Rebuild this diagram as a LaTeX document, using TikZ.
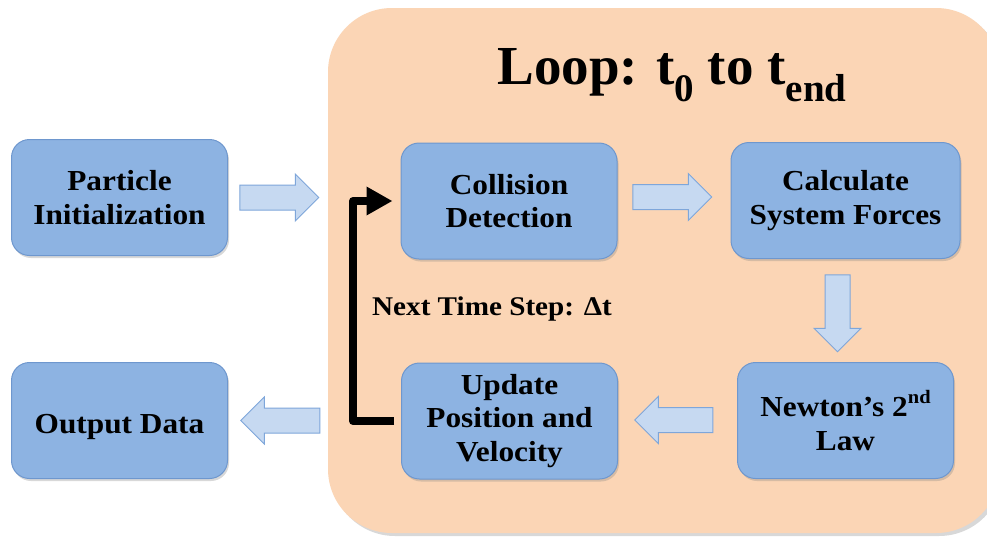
\documentclass[tikz,border=0pt]{standalone}
\usepackage{fontspec}
\setmainfont{Liberation Serif}[FakeStretch=1.08]
\newfontfamily\titlefont{Liberation Serif}
\usetikzlibrary{shapes.arrows,shadows,arrows.meta,calc}
\definecolor{loopfill}{HTML}{FBD5B5}
\definecolor{boxfill}{HTML}{8DB3E2}
\definecolor{boxdraw}{HTML}{6E97CE}
\definecolor{arrowfill}{HTML}{C6D9F1}
\definecolor{arrowdraw}{HTML}{7EA6DA}
\begin{document}
\begin{tikzpicture}[x=1pt,y=-1pt,
  stepbox/.style={draw=boxdraw, line width=1pt, fill=boxfill, rounded corners=18pt,
    minimum width=216pt, minimum height=116pt, align=center, inner sep=0pt,
    font=\fontsize{29}{33.5}\selectfont\bfseries,
    execute at begin node={\rule{0pt}{33pt}},
    drop shadow={opacity=0.3, shadow xshift=1.5pt, shadow yshift=-2.5pt}},
  blockarrow/.style={single arrow, draw=arrowdraw, fill=arrowfill, line width=1pt,
    minimum height=79pt, minimum width=46pt, single arrow head extend=11pt,
    single arrow tip angle=90, inner sep=12pt},
  loopbox/.style={fill=loopfill, rounded corners=64pt,
    drop shadow={opacity=0.3, shadow xshift=3pt, shadow yshift=-3pt}},
  feedback/.style={line width=8pt, line join=round, -{Triangle[length=26pt,width=27pt]}}
]
\useasboundingbox (0,0) rectangle (987,536);
\clip (0,0) rectangle (987,536);
\fill[white] (0,0) rectangle (987,536);
\path[loopbox] (328,8) rectangle (1000,533);
\node[font=\titlefont\fontsize{55}{60}\selectfont\bfseries] (title) at (672,75)
  {Loop: t\raisebox{-0.3em}{\fontsize{39}{39}\selectfont 0} to t\raisebox{-0.3em}{\fontsize{39}{39}\selectfont end}};
\node[stepbox] (pi) at (119.5,197.5) {Particle\\Initialization};
\node[stepbox] (od) at (119.5,420.5) {Output Data};
\node[stepbox] (cd) at (509,201) {Collision\\Detection};
\node[stepbox, minimum width=229pt] (csf) at (845.5,200.5) {Calculate\\System Forces};
\node[stepbox] (nl) at (845.5,420.5) {Newton’s 2\raisebox{0.45em}{\fontsize{19}{19}\selectfont nd}\\Law};
\node[stepbox] (up) at (509.5,421) {Update\\Position and\\Velocity};
\node[blockarrow] (a1) at (273,197.5) {};
\node[blockarrow] (a2) at (666,197) {};
\node[blockarrow, shape border rotate=270, minimum height=77pt] (a3) at (837.5,307) {};
\node[blockarrow, shape border rotate=180, minimum height=78pt] (a4) at (680,420) {};
\node[blockarrow, shape border rotate=180] (a5) at (286.5,420.5) {};
\draw[feedback, shorten <=7pt, shorten >=8pt] (up.west) -- ++(-48,0) |- (cd.west);
\node[font=\fontsize{27}{30}\selectfont\bfseries] (lbl) at (492,309) {Next Time Step: Δt};
\end{tikzpicture}
\end{document}
